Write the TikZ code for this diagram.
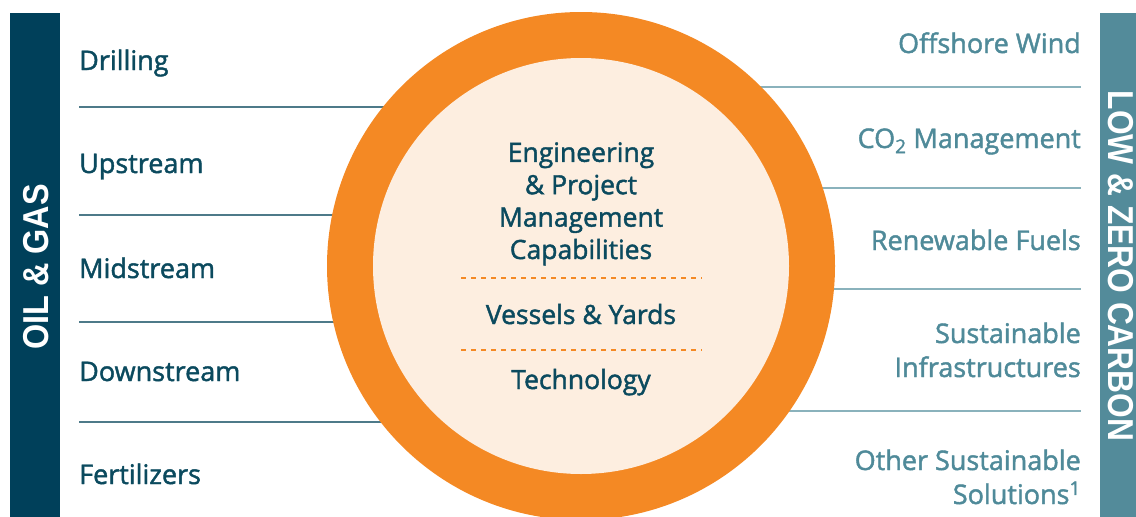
\documentclass[tikz,border=0pt]{standalone}
\usepackage{fontspec}
\setmainfont{Open Sans}
\newfontfamily\medfont{Open Sans}[FakeBold=1.6]
\newfontfamily\barfont{Liberation Sans}
\definecolor{darkteal}{HTML}{00405A}
\definecolor{lightteal}{HTML}{538B9A}
\definecolor{txtdark}{HTML}{0B4A5E}
\definecolor{txtlight}{HTML}{4F8A99}
\definecolor{ringorange}{HTML}{F48924}
\definecolor{innerfill}{HTML}{FDEEE0}
\definecolor{leftline}{HTML}{4D7A89}
\definecolor{rightline}{HTML}{8AB2BC}
\tikzset{
  lefttxt/.style={anchor=base west, text=txtdark, font=\medfont\fontsize{27}{32}\selectfont, inner sep=0pt},
  righttxt/.style={anchor=base east, text=txtlight, font=\medfont\fontsize{27}{34}\selectfont, inner sep=0pt, align=right},
  centertxt/.style={anchor=base, text=txtdark, font=\medfont\fontsize{26.5}{32.4}\selectfont, inner sep=0pt, align=center},
  lline/.style={draw=leftline, line width=1.3pt},
  rline/.style={draw=rightline, line width=1.3pt},
  dashsep/.style={draw=ringorange, line width=1.2pt, dash pattern=on 5pt off 5pt},
  bartxt/.style={text=white, font=\barfont\bfseries\fontsize{36}{36}\selectfont, inner sep=0pt}
}
\begin{document}
\begin{tikzpicture}[x=1pt,y=-1pt]
\useasboundingbox (0,0) rectangle (1136,517);
\clip (0,0) rectangle (1136,517);
% side bars
\fill[darkteal] (10,13) rectangle (60,517);
\fill[lightteal] (1100,13) rectangle (1136,517);
\node[bartxt, rotate=90] (oilgas) at (36.5,267) {\scalebox{0.9}[1]{OIL \& GAS}};
\node[bartxt, rotate=-90] (lowzero) at (1121,266) {\scalebox{0.88}[1]{LOW \& ZERO CARBON}};
% lines
\coordinate (c) at (581,266);
\coordinate (l1) at (79,107); \coordinate (l1e) at (581,107);
\coordinate (l2) at (79,215); \coordinate (l2e) at (581,215);
\coordinate (l3) at (79,322); \coordinate (l3e) at (581,322);
\coordinate (l4) at (79,422); \coordinate (l4e) at (581,422);
\draw[lline] (l1) -- (l1e);
\draw[lline] (l2) -- (l2e);
\draw[lline] (l3) -- (l3e);
\draw[lline] (l4) -- (l4e);
\coordinate (r1) at (1081,87); \coordinate (r1s) at (581,87);
\coordinate (r2) at (1081,188); \coordinate (r2s) at (581,188);
\coordinate (r3) at (1081,289); \coordinate (r3s) at (581,289);
\coordinate (r4) at (1081,411); \coordinate (r4s) at (581,411);
\draw[rline] (r1s) -- (r1);
\draw[rline] (r2s) -- (r2);
\draw[rline] (r3s) -- (r3);
\draw[rline] (r4s) -- (r4);
% circle
\fill[ringorange] (c) circle[radius=254];
\fill[innerfill] (c) circle[radius=208];
% left texts
\node[lefttxt] (drill) at (79,70) {Drilling};
\node[lefttxt] (up) at (79,173) {Upstream};
\node[lefttxt] (mid) at (79,278) {Midstream};
\node[lefttxt] (down) at (79,381) {Downstream};
\node[lefttxt] (fert) at (79,484) {Fertilizers};
% right texts
\node[righttxt] (wind) at (1081,53) {Offshore Wind};
\node[righttxt] (co2) at (1081,148) {CO\textsubscript{2} Management};
\node[righttxt] (fuel) at (1081,250) {Renewable Fuels};
\node[righttxt] (infra) at (1081,377) {Sustainable\\Infrastructures};
\node[righttxt] (other) at (1081,504) {Other Sustainable\\Solutions\textsuperscript{1}};
% center texts
\node[centertxt] (eng) at (581,259) {Engineering\\\& Project\\Management\\Capabilities};
\coordinate (d1a) at (461,278); \coordinate (d1b) at (702,278);
\draw[dashsep] (d1a) -- (d1b);
\node[centertxt] (ves) at (581,324) {Vessels \& Yards};
\coordinate (d2a) at (461,350); \coordinate (d2b) at (702,350);
\draw[dashsep] (d2a) -- (d2b);
\node[centertxt] (tech) at (581,389) {Technology};
\end{tikzpicture}
\end{document}
